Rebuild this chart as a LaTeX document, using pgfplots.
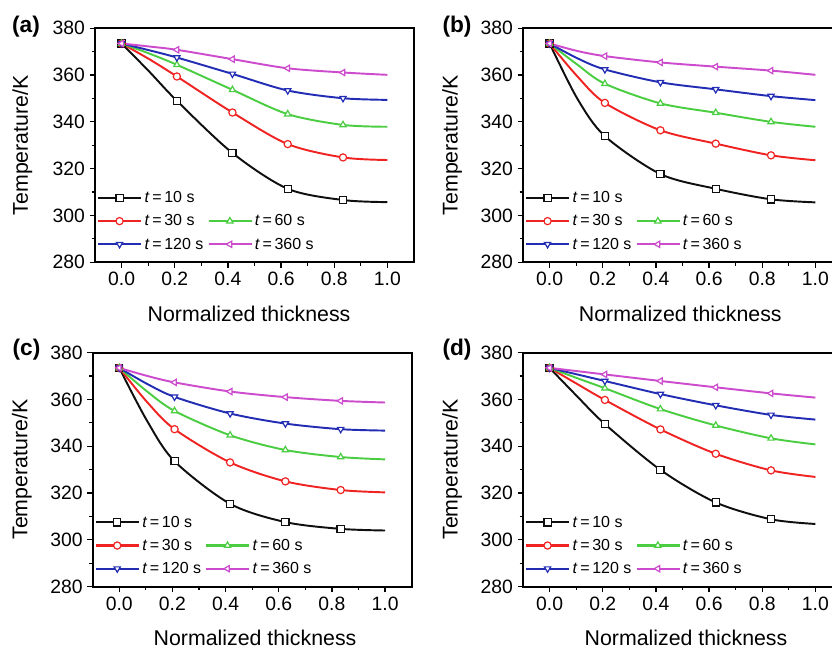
\documentclass[border=0pt]{standalone}
\usepackage{fontspec}
\setmainfont{Liberation Sans}
\usepackage{pgfplots}
\usepackage{pgfplotstable}
\pgfplotsset{compat=1.18}

\definecolor{cblack}{RGB}{15,15,15}
\definecolor{cred}{RGB}{240,35,35}
\definecolor{cgreen}{RGB}{75,205,65}
\definecolor{cblue}{RGB}{35,45,180}
\definecolor{cmag}{RGB}{205,75,205}

% temperature profiles, columns: thickness, t=10,30,60,120,360 s
\pgfplotstableread{
x     a    b    c    d    e
0     373.5 373.5 373.5 373.5 373.5
0.104 361.5 366.8 369.2 370.6 372.2
0.208 349.0 359.4 364.4 367.5 370.8
0.417 326.7 344.0 353.7 360.5 366.8
0.625 311.4 330.5 343.3 353.4 362.9
0.833 306.6 324.8 338.7 350.1 361.1
1.0   305.7 323.7 337.9 349.4 360.1
}\tabA
\pgfplotstableread{
x     a    b    c    d    e
0     373.5 373.5 373.5 373.5 373.5
0.104 350.0 359.5 364.5 367.2 370.3
0.208 333.9 348.1 356.3 362.4 368.1
0.417 317.7 336.4 347.9 356.9 365.4
0.625 311.4 330.7 343.9 353.9 363.6
0.833 306.9 325.7 340.0 351.0 361.9
1.0   305.6 323.6 337.9 349.3 360.1
}\tabB
\pgfplotstableread{
x     a    b    c    d    e
0     373.5 373.5 373.5 373.5 373.5
0.104 351.0 359.0 363.5 366.7 370.1
0.208 333.6 347.3 355.1 361.1 367.3
0.417 315.4 333.1 344.7 354.0 363.4
0.625 307.6 325.0 338.4 349.7 361.0
0.833 304.7 321.3 335.4 347.3 359.4
1.0   304.0 320.3 334.4 346.7 358.7
}\tabC
\pgfplotstableread{
x     a    b    c    d    e
0     373.5 373.5 373.5 373.5 373.5
0.104 361.3 366.6 369.1 370.7 372.1
0.208 349.5 359.8 364.8 367.9 370.7
0.417 329.9 347.2 355.9 362.3 367.9
0.625 316.0 336.8 348.9 357.5 365.2
0.833 308.8 329.7 343.4 353.4 362.6
1.0   306.8 326.9 340.8 351.4 360.8
}\tabD

\pgfplotsset{
  panel/.style={
    width=239.25pt, height=175.5pt, scale only axis,
    xmin=-0.1, xmax=1.1, ymin=280, ymax=380,
    xtick={0,0.2,0.4,0.6,0.8,1.0}, ytick={280,300,320,340,360,380},
    minor x tick num=1, minor y tick num=1,
    xtick pos=bottom, ytick pos=left,
    tick align=outside,
    major tick length=4pt, minor tick length=2.5pt,
    tick style={black, line width=0.9pt},
    axis line style={line width=1.3pt},
    /pgf/number format/assume math mode=true,
    xticklabel style={/pgf/number format/.cd, fixed, fixed zerofill, precision=1},
    tick label style={font=\fontsize{14.5}{16}\selectfont},
    label style={font=\fontsize{16}{18}\selectfont},
    ylabel={Temperature/K}, xlabel={Normalized thickness},
    legend columns=2,
    legend cell align=left,
    legend style={draw=none, fill=none, inner sep=0pt,
      at={(axis description cs:0.006,0.035)}, anchor=south west,
      font=\fontsize{12}{13}\selectfont, row sep=3.5pt,
      /tikz/every even column/.append style={column sep=1pt}},
    legend image code/.code={
      \draw[line width=1.6pt, mark indices={2}] plot coordinates {(0pt,0.2pt) (16pt,0.2pt) (32pt,0.2pt)};},
  },
  ser/.style={line width=1.45pt, smooth, mark indices={1,3,4,5,6}, mark size=2.7pt},
}

\newcommand{\drawpanel}[6]{%
\begin{axis}[panel, at={#1}, anchor=north west,
  ylabel style={at={(axis description cs:-#3,0.5)}, anchor=center},
  xlabel style={at={(axis description cs:#4,-0.22)}, anchor=center}]
\addplot[ser, cblack, mark=square*, mark options={fill=white, line width=0.9pt}] table[x=x, y=a] {#2};
\addlegendentry{\textit{t}\,=\,10 s}
\addlegendimage{empty legend}
\addlegendentry{}
\addplot[ser, cred, mark=*, mark options={fill=white, line width=0.9pt}] table[x=x, y=b] {#2};
\addlegendentry{\textit{t}\,=\,30 s}
\addplot[ser, cgreen, mark=triangle*, mark options={fill=white, line width=0.9pt}] table[x=x, y=c] {#2};
\addlegendentry{\textit{t}\,=\,60 s}
\addplot[ser, cblue, mark=triangle*, mark options={fill=white, line width=0.9pt, rotate=180}] table[x=x, y=d] {#2};
\addlegendentry{\textit{t}\,=\,120 s}
\addplot[ser, cmag, mark=triangle*, mark options={fill=white, line width=0.9pt, rotate=90}] table[x=x, y=e] {#2};
\addlegendentry{\textit{t}\,=\,360 s}
\end{axis}
\node[font=\fontsize{17}{19}\selectfont\bfseries] at #5 {(#6)};
}

\begin{document}
\begin{tikzpicture}
\useasboundingbox (0,0) rectangle (624pt,-487.5pt);
\drawpanel{(71.25pt,-21.2pt)}{\tabA}{0.228}{0.483}{(19.5pt,-20pt)}{a}
\drawpanel{(392.25pt,-21.2pt)}{\tabB}{0.222}{0.493}{(342.75pt,-20.25pt)}{b}
\drawpanel{(69.5pt,-264.5pt)}{\tabC}{0.222}{0.509}{(19.9pt,-262.5pt)}{c}
\drawpanel{(392.25pt,-264.5pt)}{\tabD}{0.222}{0.511}{(342.75pt,-262.5pt)}{d}
\end{tikzpicture}
\end{document}
